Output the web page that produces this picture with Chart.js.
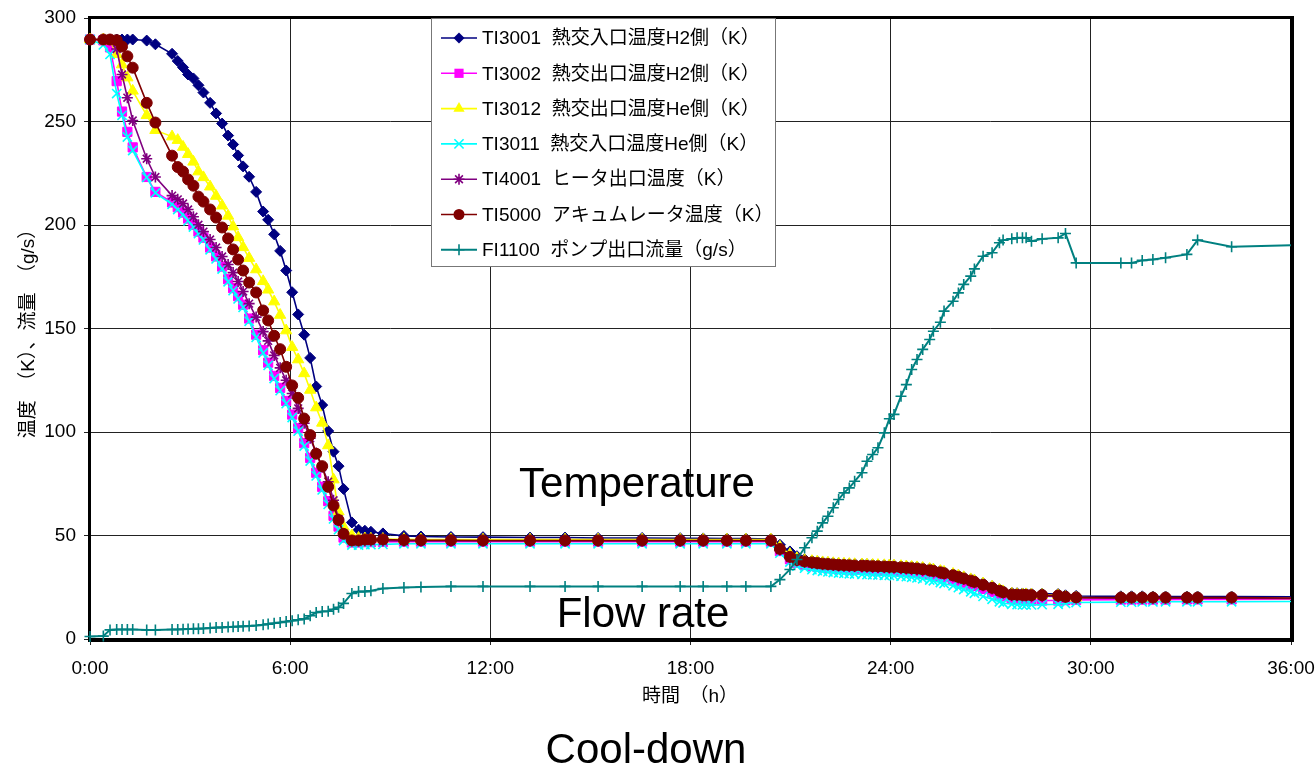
<!DOCTYPE html>
<html>
<head>
<meta charset="utf-8">
<title>Cool-down</title>
<script src="https://cdn.jsdelivr.net/npm/chart.js@4.4.1/dist/chart.umd.min.js"></script>
<style>
    html, body { margin: 0; padding: 0; background: #fff; }
    #wrap { width: 1316px; height: 770px; }
</style>
</head>
<body>
<div id="wrap"><canvas id="coolChart" width="1316" height="770"></canvas></div>
<script>
// 経過時間 (h)
var hours = [
    0, 0.4, 0.6, 0.8, 0.96, 1.12, 1.28, 1.7, 1.96, 2.46,
    2.63, 2.79, 2.94, 3.1, 3.25, 3.4, 3.6, 3.78, 3.96, 4.14,
    4.29, 4.44, 4.59, 4.77, 4.98, 5.19, 5.34, 5.52, 5.7, 5.88,
    6.06, 6.24, 6.42, 6.6, 6.78, 6.96, 7.14, 7.3, 7.45, 7.6,
    7.85, 8.05, 8.24, 8.42, 8.78,
    9.41, 9.92, 10.82, 11.78, 13.19, 14.24, 15.23, 16.55, 17.69, 18.38, 19.09, 19.66, 20.41,
    20.68, 20.98, 21.19, 21.42, 21.64, 21.8, 21.96, 22.12, 22.28, 22.44,
    22.6, 22.76, 22.92, 23.14, 23.29, 23.46, 23.62, 23.81, 23.96, 24.1,
    24.31, 24.47, 24.63, 24.79, 24.96, 25.17, 25.28, 25.49, 25.6, 25.87,
    26.03, 26.19, 26.4, 26.51, 26.77, 27.04, 27.26, 27.37, 27.63, 27.79,
    27.95, 28.06, 28.22, 28.54, 29.02, 29.24, 29.56,
    30.9, 31.22, 31.54, 31.86, 32.24, 32.88, 33.2, 34.22, 36
];

var ti3001 = [
    289.6, 289.6, 289.6, 289.6, 289.6, 289.6, 289.6, 289.1, 287.3, 282.7,
    279.2, 276.1, 272.7, 270.8, 267.5, 264.0, 259.0, 253.9, 249.0, 243.2,
    238.9, 233.6, 228.3, 223.3, 216.0, 206.5, 202.5, 195.5, 187.5, 178.0,
    167.5, 156.8, 147.0, 135.8, 122.0, 113.0, 100.5, 90.5, 83.5, 72.5,
    56.3, 52.8, 52.3, 51.8, 51.0,
    49.8, 49.5, 49.3, 49.2, 49.0, 49.0, 48.8, 48.8, 48.7, 48.6, 48.5, 48.5, 48.3,
    45.5, 42.3, 40.0, 38.6, 37.9, 37.5, 37.2, 37.0, 36.8, 36.6,
    36.5, 36.4, 36.3, 36.2, 36.1, 36.0, 35.9, 35.8, 35.7, 35.6,
    35.4, 35.2, 35.0, 34.8, 34.5, 34.0, 33.7, 33.0, 32.6, 31.6,
    30.8, 30.0, 29.0, 28.4, 27.0, 25.5, 24.1, 23.4, 22.3, 22.1,
    22.0, 22.0, 21.9, 21.9, 21.7, 21.1, 20.8,
    20.6, 20.6, 20.6, 20.5, 20.5, 20.5, 20.5, 20.5, 20.4
];

var ti3002 = [
    289.6, 289.2, 285.8, 269.5, 254.8, 245.0, 237.5, 223.2, 216.0, 210.9,
    208.6, 206.0, 203.1, 200.1, 196.8, 193.9, 189.1, 184.8, 179.9, 173.8,
    169.5, 165.6, 161.5, 154.8, 147.0, 139.5, 133.5, 127.1, 121.3, 115.0,
    108.4, 101.8, 94.6, 87.5, 80.3, 73.5, 66.6, 59.5, 54.3, 49.0,
    46.6, 46.6, 46.8, 46.8, 46.9,
    47.0, 47.0, 47.0, 47.0, 47.0, 47.0, 47.0, 47.0, 47.0, 47.0, 47.0, 47.0, 47.0,
    42.5, 38.5, 36.8, 35.9, 35.3, 34.9, 34.6, 34.3, 34.1, 33.9,
    33.7, 33.6, 33.5, 33.4, 33.3, 33.2, 33.1, 33.0, 32.9, 32.8,
    32.6, 32.4, 32.2, 32.0, 31.7, 31.2, 30.9, 30.2, 29.8, 28.8,
    28.0, 27.2, 26.2, 25.6, 24.2, 22.7, 21.3, 20.6, 19.4, 19.0,
    18.8, 18.7, 18.6, 18.6, 18.6, 18.8, 18.9,
    19.0, 19.0, 19.0, 19.0, 19.0, 19.1, 19.1, 19.1, 19.2
];

var ti3012 = [
    289.6, 289.6, 289.0, 282.5, 277.5, 271.2, 264.8, 253.0, 245.8, 242.7,
    241.0, 237.7, 234.2, 230.5, 225.8, 223.0, 218.5, 214.0, 209.3, 204.4,
    199.2, 194.0, 189.2, 184.0, 178.5, 172.8, 168.7, 163.0, 156.5, 149.0,
    141.0, 135.0, 128.3, 120.3, 111.8, 104.4, 93.5, 77.0, 61.5, 54.2,
    50.0, 48.8, 48.5, 48.4, 48.3,
    48.2, 48.1, 48.1, 48.0, 48.0, 48.0, 48.0, 48.0, 48.0, 48.0, 48.0, 48.0, 48.0,
    44.5, 41.0, 39.0, 38.1, 37.6, 37.3, 37.0, 36.8, 36.6, 36.4,
    36.3, 36.2, 36.1, 36.0, 35.9, 35.8, 35.7, 35.6, 35.5, 35.4,
    35.2, 35.0, 34.8, 34.6, 34.3, 33.8, 33.5, 32.8, 32.4, 31.4,
    30.6, 29.8, 28.8, 28.2, 26.8, 25.2, 23.8, 23.0, 21.8, 21.6,
    21.5, 21.5, 21.4, 21.3, 21.1, 20.3, 19.9,
    19.7, 19.7, 19.7, 19.7, 19.7, 19.7, 19.7, 19.7, 19.6
];

var ti3011 = [
    289.6, 287.0, 282.4, 263.5, 253.0, 242.5, 236.0, 223.0, 215.5, 210.0,
    207.5, 205.0, 202.0, 199.0, 195.8, 192.8, 188.0, 183.6, 178.7, 172.6,
    168.3, 164.3, 160.2, 153.5, 145.7, 138.2, 132.2, 125.8, 120.0, 113.7,
    107.0, 100.4, 93.2, 86.0, 78.8, 72.0, 65.0, 58.0, 52.8, 47.6,
    45.4, 45.4, 45.6, 45.6, 45.7,
    46.0, 46.0, 46.0, 46.0, 46.0, 46.0, 46.0, 46.0, 46.0, 46.0, 46.0, 46.0, 46.0,
    41.5, 37.2, 35.2, 34.2, 33.5, 33.1, 32.7, 32.4, 32.1, 31.9,
    31.7, 31.5, 31.4, 31.2, 31.1, 31.0, 30.9, 30.8, 30.7, 30.5,
    30.3, 30.1, 29.8, 29.5, 29.1, 28.5, 28.1, 27.3, 26.8, 25.7,
    24.8, 23.9, 22.8, 22.1, 20.6, 19.2, 18.0, 17.4, 16.8, 16.6,
    16.5, 16.5, 16.5, 16.6, 16.8, 17.2, 17.6,
    17.8, 17.8, 17.9, 17.9, 18.0, 18.0, 18.0, 18.0, 18.1
];

var ti4001 = [
    289.6, 289.6, 289.6, 285.0, 272.7, 261.5, 250.5, 232.0, 223.2, 214.2,
    212.4, 210.4, 207.5, 204.0, 200.1, 196.8, 193.0, 189.1, 184.8, 180.9,
    177.0, 172.7, 167.9, 162.0, 155.5, 148.5, 144.0, 137.0, 131.0, 125.0,
    118.6, 111.4, 104.2, 97.0, 89.8, 83.0, 76.0, 67.0, 58.0, 51.0,
    47.5, 47.3, 47.5, 47.5, 47.5,
    47.4, 47.4, 47.4, 47.4, 47.4, 47.4, 47.4, 47.4, 47.4, 47.4, 47.4, 47.4, 47.4,
    43.0, 39.2, 37.7, 37.0, 36.5, 36.2, 35.9, 35.7, 35.5, 35.3,
    35.2, 35.1, 35.0, 34.9, 34.8, 34.7, 34.6, 34.5, 34.4, 34.3,
    34.1, 33.9, 33.7, 33.5, 33.2, 32.7, 32.4, 31.7, 31.3, 30.3,
    29.5, 28.7, 27.7, 27.1, 25.7, 24.2, 22.8, 22.1, 21.0, 20.9,
    20.8, 20.8, 20.7, 20.7, 20.5, 20.0, 19.8,
    19.7, 19.7, 19.7, 19.7, 19.7, 19.7, 19.7, 19.7, 19.6
];

var ti5000 = [
    289.6, 289.6, 289.6, 289.3, 286.2, 281.5, 276.0, 259.0, 249.5, 233.5,
    228.0, 225.8, 222.0, 219.0, 213.7, 211.3, 207.5, 203.6, 198.8, 193.5,
    188.2, 183.3, 178.0, 172.2, 167.4, 158.7, 153.9, 146.5, 140.0, 131.5,
    122.5, 116.5, 106.5, 98.5, 89.5, 83.5, 73.5, 64.5, 57.5, 50.8,
    47.6, 47.6, 48.1, 48.1, 48.1,
    47.8, 47.7, 47.7, 47.6, 47.6, 47.6, 47.6, 47.6, 47.6, 47.6, 47.6, 47.6, 47.6,
    43.5, 39.7, 38.2, 37.5, 37.0, 36.7, 36.4, 36.2, 36.0, 35.8,
    35.7, 35.6, 35.5, 35.4, 35.3, 35.2, 35.1, 35.0, 34.9, 34.8,
    34.6, 34.4, 34.2, 34.0, 33.7, 33.2, 32.9, 32.2, 31.8, 30.8,
    30.0, 29.2, 28.2, 27.6, 26.2, 24.7, 23.3, 22.6, 21.5, 21.4,
    21.3, 21.3, 21.2, 21.2, 21.0, 20.4, 20.1,
    20.0, 20.0, 20.0, 20.0, 20.0, 20.0, 20.0, 20.0, 19.8
];

var fi1100 = [
    1.2, 1.4, 4.4, 4.6, 4.6, 4.6, 4.6, 4.4, 4.4, 4.6,
    4.6, 4.7, 4.8, 4.9, 5.0, 5.1, 5.3, 5.5, 5.6, 5.8,
    5.9, 6.0, 6.1, 6.3, 6.5, 6.9, 7.2, 7.6, 8.0, 8.4,
    8.8, 9.3, 9.7, 11.2, 12.8, 13.3, 13.4, 14.4, 15.3, 17.2,
    22.0, 22.9, 22.9, 23.3, 24.4,
    24.9, 25.1, 25.4, 25.4, 25.4, 25.4, 25.4, 25.4, 25.4, 25.4, 25.4, 25.4, 25.4,
    28.7, 33.6, 38.4, 44.1, 48.9, 52.1, 56.1, 59.3, 63.4, 67.4,
    70.6, 73.0, 76.2, 80.3, 85.9, 89.1, 92.4, 99.6, 106.4, 108.5,
    117.3, 122.9, 130.2, 135.0, 139.9, 144.7, 148.7, 153.0, 158.4, 163.2,
    167.2, 171.3, 175.3, 178.8, 184.9, 186.6, 191.4, 192.7, 193.3, 193.8,
    193.8, 193.8, 192.2, 193.3, 193.8, 195.9, 181.7,
    181.7, 181.7, 182.9, 183.3, 184.2, 185.8, 192.7, 189.5, 190.2
];

var seriesNames = [
    'TI3001  熱交入口温度H2側（K）',
    'TI3002  熱交出口温度H2側（K）',
    'TI3012  熱交出口温度He側（K）',
    'TI3011  熱交入口温度He側（K）',
    'TI4001  ヒータ出口温度（K）',
    'TI5000  アキュムレータ温度（K）',
    'FI1100  ポンプ出口流量（g/s）'
];

var xTicks = [0, 6, 12, 18, 24, 30, 36];
var yTicks = [0, 50, 100, 150, 200, 250, 300];

var latinFont = '"Liberation Sans", Arial, sans-serif';
var jpFont = '"Liberation Sans", "Noto Sans CJK JP", sans-serif';

function makeSeries(idx, values, color, style, radius, lineW) {
    return {
        label: seriesNames[idx],
        data: hours.map(function (h, i) { return { x: h, y: values[i] }; }),
        borderColor: color,
        backgroundColor: color,
        borderWidth: lineW,
        pointStyle: style,
        pointRadius: function (ctx) { return ctx.dataIndex === hours.length - 1 ? 0 : radius; },
        pointBorderColor: color,
        pointBackgroundColor: color,
        pointBorderWidth: (style === 'crossRot' || style === 'cross' || style === 'star') ? 1.6 : 1,
        tension: 0,
        clip: false,
        order: 7 - idx,
        markerRadius: radius
    };
}

// 凡例のマーカー
function drawMarker(ctx, style, x, y, r, color) {
    ctx.save();
    ctx.fillStyle = color;
    ctx.strokeStyle = color;
    ctx.lineWidth = 1.6;
    ctx.beginPath();
    if (style === 'rectRot') {
        ctx.moveTo(x, y - r); ctx.lineTo(x + r, y); ctx.lineTo(x, y + r); ctx.lineTo(x - r, y);
        ctx.closePath(); ctx.fill();
    } else if (style === 'rect') {
        var s = r * Math.SQRT1_2;
        ctx.rect(x - s, y - s, 2 * s, 2 * s); ctx.fill();
    } else if (style === 'triangle') {
        ctx.moveTo(x, y - r);
        ctx.lineTo(x + r * 0.866, y + r * 0.5);
        ctx.lineTo(x - r * 0.866, y + r * 0.5);
        ctx.closePath(); ctx.fill();
    } else if (style === 'circle') {
        ctx.arc(x, y, r, 0, Math.PI * 2); ctx.fill();
    } else {
        var d = r * Math.SQRT1_2;
        if (style === 'cross' || style === 'star') {
            ctx.moveTo(x - r, y); ctx.lineTo(x + r, y);
            ctx.moveTo(x, y - r); ctx.lineTo(x, y + r);
        }
        if (style === 'crossRot' || style === 'star') {
            ctx.moveTo(x - d, y - d); ctx.lineTo(x + d, y + d);
            ctx.moveTo(x - d, y + d); ctx.lineTo(x + d, y - d);
        }
        ctx.stroke();
    }
    ctx.restore();
}

var extrasPlugin = {
    id: 'extras',
    beforeDatasetsDraw: function (chart) {
        var ctx = chart.ctx, a = chart.chartArea;
        ctx.save();
        ctx.fillStyle = '#000';
        ctx.fillRect(a.left - 2, a.top - 2, 3, a.bottom - a.top + 4);
        ctx.fillRect(a.left - 2, a.top - 2, a.right - a.left + 4, 3);
        ctx.fillRect(a.right - 1, a.top - 2, 4, a.bottom - a.top + 5);
        ctx.fillRect(a.left - 2, a.bottom - 1, a.right - a.left + 5, 4);
        ctx.restore();
    },
    afterDraw: function (chart) {
        var ctx = chart.ctx;
        ctx.save();

        // 凡例
        var bx = 431, by = 18, bw = 344, bh = 248;
        ctx.fillStyle = '#fff';
        ctx.fillRect(bx, by, bw, bh);
        ctx.strokeStyle = '#777';
        ctx.lineWidth = 1;
        ctx.strokeRect(bx + 0.5, by + 0.5, bw, bh);
        chart.data.datasets.forEach(function (ds, i) {
            var y = 38 + i * 35.3;
            ctx.strokeStyle = ds.borderColor;
            ctx.lineWidth = ds.borderWidth;
            ctx.beginPath();
            ctx.moveTo(441, y);
            ctx.lineTo(477, y);
            ctx.stroke();
            drawMarker(ctx, ds.pointStyle, 459, y, ds.markerRadius, ds.borderColor);
            ctx.fillStyle = '#000';
            ctx.font = '19px ' + jpFont;
            ctx.textAlign = 'left';
            ctx.textBaseline = 'middle';
            ctx.fillText(ds.label, 482, y + 1);
        });

        // 軸タイトル
        ctx.fillStyle = '#000';
        ctx.font = '19px ' + jpFont;
        ctx.textAlign = 'center';
        ctx.textBaseline = 'middle';
        ctx.fillText('時間\u3000（h）', 690, 697);
        ctx.save();
        ctx.translate(29, 329);
        ctx.rotate(-Math.PI / 2);
        ctx.fillText('温度\u3000（K）、流量\u3000（g/s）', 0, 0);
        ctx.restore();

        // 注記
        ctx.font = '42px ' + latinFont;
        ctx.textBaseline = 'alphabetic';
        ctx.fillText('Temperature', 637, 497);
        ctx.fillText('Flow rate', 643, 627);
        ctx.fillText('Cool-down', 646, 763);
        ctx.restore();
    }
};

var ctx = document.getElementById('coolChart').getContext('2d');
var coolChart = new Chart(ctx, {
    type: 'line',
    data: {
        datasets: [
            makeSeries(0, ti3001, '#000080', 'rectRot', 5.5, 1.6),
            makeSeries(1, ti3002, '#FF00FF', 'rect', 6.5, 1.6),
            makeSeries(2, ti3012, '#FFFF00', 'triangle', 6.5, 1.6),
            makeSeries(3, ti3011, '#00FFFF', 'crossRot', 6.5, 1.6),
            makeSeries(4, ti4001, '#800080', 'star', 5.5, 1.6),
            makeSeries(5, ti5000, '#800000', 'circle', 5.5, 1.6),
            makeSeries(6, fi1100, '#008080', 'cross', 5.5, 2)
        ]
    },
    options: {
        responsive: false,
        animation: false,
        devicePixelRatio: 1,
        layout: { padding: { top: 18, right: 25, left: 0, bottom: 0 } },
        plugins: {
            legend: { display: false },
            tooltip: { enabled: false }
        },
        scales: {
            x: {
                type: 'linear',
                min: 0,
                max: 36,
                afterBuildTicks: function (s) { s.ticks = xTicks.map(function (v) { return { value: v }; }); },
                afterFit: function (s) { s.height = 131; s.paddingLeft = 0; s.paddingRight = 0; },
                ticks: {
                    color: '#000',
                    padding: 12,
                    maxRotation: 0,
                    font: { family: latinFont, size: 19 },
                    callback: function (v) { return v + ':00'; }
                },
                grid: { color: '#222', lineWidth: 1, tickLength: 6 },
                border: { display: false }
            },
            y: {
                min: 0,
                max: 300,
                afterBuildTicks: function (s) { s.ticks = yTicks.map(function (v) { return { value: v }; }); },
                afterFit: function (s) { s.width = 90; s.paddingTop = 0; s.paddingBottom = 0; },
                ticks: {
                    color: '#000',
                    padding: 8,
                    font: { family: latinFont, size: 19 }
                },
                grid: { color: '#222', lineWidth: 1, tickLength: 6 },
                border: { display: false }
            }
        }
    },
    plugins: [extrasPlugin]
});
</script>
</body>
</html>
